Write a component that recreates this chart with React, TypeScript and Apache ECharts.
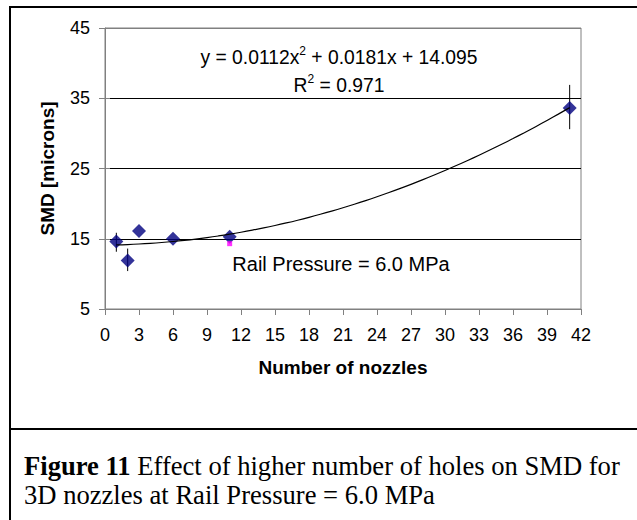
import React, { useEffect, useRef } from "react";
import * as echarts from "echarts";

// Measured data (Number of nozzles vs SMD)
const nozzleCounts = [1, 2, 3, 6, 11, 41];
const smdValues = [14.6, 11.9, 16.1, 15.0, 15.3, 33.6];
// error bars: [x, low, high]
const errorBarX = [1, 2, 41];
const errorBarLow = [13.15, 10.4, 30.6];
const errorBarHigh = [15.85, 13.6, 36.9];
// small magenta marker
const extraX = [11];
const extraY = [14.3];
// Trendline coefficients as printed on chart: y = a x^2 + b x + c
const trendCoefficients = [0.0112, 0.0181, 14.095];
const trendRange = [1, 41];

const xMin = 0, xMax = 42, xInterval = 3;
const yMin = 5, yMax = 45, yInterval = 10;

const SANS = "'Liberation Sans', Arial, sans-serif";
const SERIF = "'Liberation Serif', 'Times New Roman', serif";

export default function App() {
  const ref = useRef<HTMLDivElement>(null);
  useEffect(() => {
    if (!ref.current) return;
    const chart = echarts.init(ref.current, null, { renderer: "svg" });

    const mainData = nozzleCounts.map((x, i) => [x, smdValues[i]]);
    const errData = errorBarX.map((x, i) => [x, errorBarLow[i], errorBarHigh[i]]);
    const extraData = extraX.map((x, i) => [x, extraY[i]]);
    const [a, b, c] = trendCoefficients;
    const trendData: number[][] = [];
    for (let x = trendRange[0]; x <= trendRange[1]; x += 1) {
      trendData.push([x, a * x * x + b * x + c]);
    }

    const option: any = {
      animation: false,
      backgroundColor: "#ffffff",
      grid: {
        left: 105,
        top: 28,
        right: 56,
        bottom: 211,
        show: true,
        borderColor: "#808080",
        borderWidth: 1,
        containLabel: false,
      },
      xAxis: {
        type: "value",
        min: xMin,
        max: xMax,
        interval: xInterval,
        name: "Number of nozzles",
        nameLocation: "middle",
        nameGap: 49,
        nameTextStyle: { fontFamily: SANS, fontSize: 19, fontWeight: "bold", color: "#000" },
        axisLine: { show: true, lineStyle: { color: "#808080", width: 1 } },
        axisTick: { show: true, inside: false, length: 6, lineStyle: { color: "#808080" } },
        axisLabel: { fontFamily: SANS, fontSize: 18, color: "#000", margin: 17 },
        splitLine: { show: false },
      },
      yAxis: [
        {
          type: "value",
          min: yMin,
          max: yMax,
          interval: yInterval,
          position: "left",
          name: "SMD [microns]",
          nameLocation: "middle",
          nameGap: 48,
          nameTextStyle: { fontFamily: SANS, fontSize: 19, fontWeight: "bold", color: "#000" },
          axisLine: { show: true, lineStyle: { color: "#808080", width: 1 } },
          axisTick: { show: true, inside: false, length: 6, lineStyle: { color: "#808080" } },
          axisLabel: { fontFamily: SANS, fontSize: 18, color: "#000", margin: 15 },
          splitLine: {
            show: true,
            lineStyle: { color: ["#808080", "#000000", "#000000", "#000000", "#808080"], width: 1 },
          },
        },
        {
          type: "value",
          min: yMin,
          max: yMax,
          interval: yInterval,
          position: "left",
          offset: 0,
          axisLine: { show: false },
          axisTick: { show: true, inside: true, length: 5, lineStyle: { color: "#808080" } },
          axisLabel: { show: false },
          splitLine: { show: false },
        },
      ],
      series: [
        {
          type: "custom",
          name: "error",
          z: 2,
          data: errData,
          renderItem: (params: any, api: any) => {
            const x = api.value(0);
            const lo = api.coord([x, api.value(1)]);
            const hi = api.coord([x, api.value(2)]);
            return {
              type: "line",
              shape: { x1: lo[0], y1: lo[1], x2: hi[0], y2: hi[1] },
              style: { stroke: "#000000", lineWidth: 1 },
            };
          },
        },
        {
          type: "scatter",
          name: "SMD",
          z: 3,
          symbol: "diamond",
          symbolSize: 14,
          itemStyle: { color: "#000080" },
          data: mainData,
        },
        {
          type: "scatter",
          name: "extra",
          z: 3,
          symbol: "rect",
          symbolSize: 5,
          itemStyle: { color: "#FF00FF" },
          data: extraData,
        },
        {
          type: "line",
          name: "trend",
          z: 4,
          smooth: true,
          showSymbol: false,
          symbol: "none",
          lineStyle: { color: "#000000", width: 1.2 },
          data: trendData,
        },
      ],
      graphic: [
        {
          type: "line",
          z: 0,
          shape: { x1: 10, y1: 7, x2: 660, y2: 7 },
          style: { stroke: "#000000", lineWidth: 2 },
        },
        {
          type: "line",
          z: 0,
          shape: { x1: 10, y1: 6, x2: 10, y2: 540 },
          style: { stroke: "#000000", lineWidth: 2 },
        },
        {
          type: "line",
          z: 0,
          shape: { x1: 10, y1: 429, x2: 660, y2: 429 },
          style: { stroke: "#000000", lineWidth: 2 },
        },
        {
          type: "text",
          z: 10,
          x: 339,
          y: 57,
          style: {
            text: "{t|y = 0.0112x}{s|2}{t| + 0.0181x + 14.095}",
            align: "center",
            verticalAlign: "middle",
            textAlign: "center",
            textVerticalAlign: "middle",
            fill: "#000",
            rich: {
              t: { fontFamily: SANS, fontSize: 19.3, lineHeight: 24, fill: "#000", color: "#000" },
              s: { fontFamily: SANS, fontSize: 12, lineHeight: 12, verticalAlign: "top", fill: "#000", color: "#000" },
            },
          },
        },
        {
          type: "text",
          z: 10,
          x: 339,
          y: 85,
          style: {
            text: "{t|R}{s|2}{t| = 0.971}",
            align: "center",
            verticalAlign: "middle",
            textAlign: "center",
            textVerticalAlign: "middle",
            fill: "#000",
            rich: {
              t: { fontFamily: SANS, fontSize: 19.3, lineHeight: 24, fill: "#000", color: "#000" },
              s: { fontFamily: SANS, fontSize: 12, lineHeight: 12, verticalAlign: "top", fill: "#000", color: "#000" },
            },
          },
        },
        {
          type: "text",
          z: 10,
          x: 341,
          y: 264,
          style: {
            text: "Rail Pressure = 6.0 MPa",
            align: "center",
            verticalAlign: "middle",
            textAlign: "center",
            textVerticalAlign: "middle",
            fontFamily: SANS,
            fontSize: 20,
            fill: "#000",
          },
        },
        {
          type: "text",
          z: 10,
          x: 24,
          y: 480,
          style: {
            text: "{b|Figure 11}{n| Effect of higher number of holes on SMD for}\n{n|3D nozzles at Rail Pressure = 6.0 MPa}",
            align: "left",
            verticalAlign: "middle",
            textAlign: "left",
            textVerticalAlign: "middle",
            fill: "#000",
            rich: {
              b: { fontFamily: SERIF, fontSize: 26.6, fontWeight: "bold", lineHeight: 29, fill: "#000", color: "#000" },
              n: { fontFamily: SERIF, fontSize: 26.6, lineHeight: 29, fill: "#000", color: "#000" },
            },
          },
        },
      ],
    };

    chart.setOption(option);
    return () => {
      chart.dispose();
    };
  }, []);

  return (
    <div
      ref={ref}
      style={{ position: "fixed", left: 0, top: 0, width: 637, height: 520, background: "#fff" }}
    />
  );
}
